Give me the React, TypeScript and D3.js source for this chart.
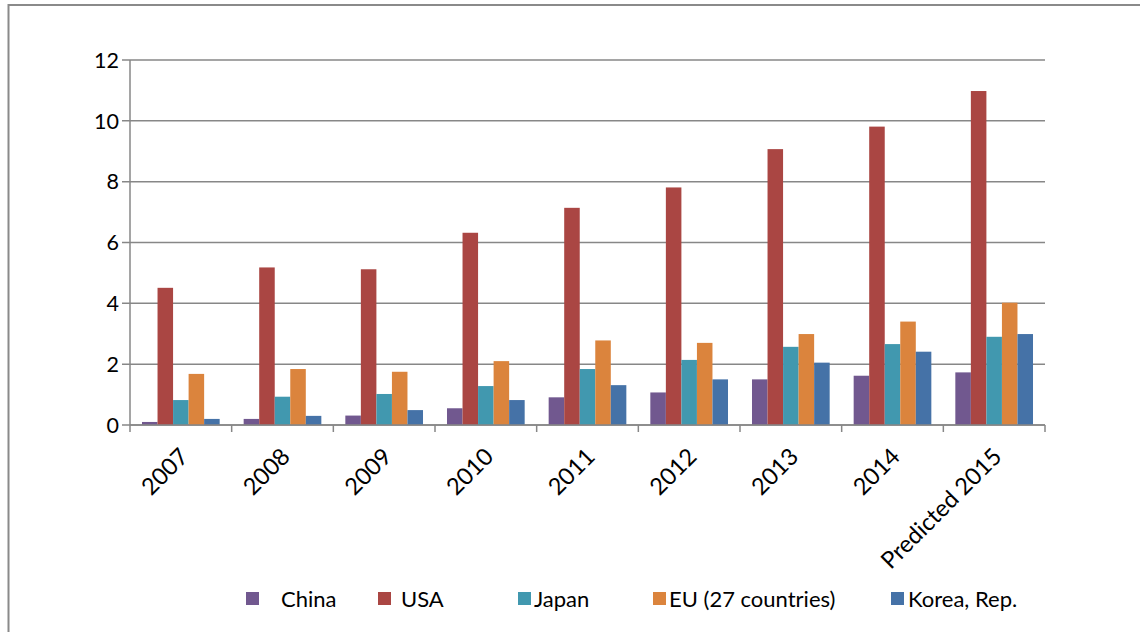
import React from "react";
import * as d3 from "d3";

const categories = ["2007", "2008", "2009", "2010", "2011", "2012", "2013", "2014", "Predicted 2015"];
const seriesNames = ["China", "USA", "Japan", "EU (27 countries)", "Korea, Rep."];
const china = [0.1, 0.2, 0.31, 0.55, 0.91, 1.07, 1.5, 1.62, 1.73];
const usa = [4.51, 5.18, 5.12, 6.32, 7.14, 7.81, 9.07, 9.81, 10.98];
const japan = [0.82, 0.93, 1.02, 1.28, 1.84, 2.14, 2.57, 2.66, 2.9];
const eu = [1.68, 1.84, 1.75, 2.1, 2.78, 2.7, 2.99, 3.4, 4.02];
const korea = [0.2, 0.3, 0.49, 0.82, 1.31, 1.5, 2.05, 2.41, 2.99];
const yTicks = [0, 2, 4, 6, 8, 10, 12];
const colors = ["#71588F", "#AA4643", "#4198AF", "#DB843D", "#4572A7"];

const seriesValues = [china, usa, japan, eu, korea];

const W = 1140;
const H = 632;
const plot = { left: 130, right: 1045, top: 60, bottom: 425 };
const FONT = "Lato, 'Open Sans', sans-serif";
const GRID = "#878787";
const legendX = [246, 378, 518, 653, 891];
const legendGap = [35, 23, 16, 16, 17];

export default function App() {
  const x0 = d3.scaleBand<string>().domain(categories).range([plot.left, plot.right]).padding(0);
  const bw = x0.bandwidth();
  const pad = bw * 0.118;
  const x1 = d3.scaleBand<string>().domain(seriesNames).range([pad, bw - pad]).padding(0);
  const y = d3.scaleLinear().domain([0, 12]).range([plot.bottom, plot.top]);

  return (
    <svg width={W} height={H} style={{ position: "absolute", left: 0, top: 0, background: "#fff" }} fontFamily={FONT}>
      <rect x={8.5} y={5} width={W + 20} height={H + 20} fill="none" stroke="#8a8a8a" strokeWidth={2} />
      {yTicks.map((t) => (
        <g key={t}>
          <line x1={plot.left - 8} x2={plot.right} y1={y(t)} y2={y(t)} stroke={GRID} strokeWidth={1.5} />
          <text x={plot.left - 11} y={y(t)} dy="0.36em" textAnchor="end" fontSize={21.5} fill="#000">
            {t}
          </text>
        </g>
      ))}
      <line x1={plot.left} x2={plot.left} y1={plot.top} y2={plot.bottom} stroke={GRID} strokeWidth={1.5} />
      {categories.map((c, i) => (
        <g key={c}>
          {seriesValues.map((vals, s) => (
            <rect
              key={s}
              x={(x0(c) as number) + (x1(seriesNames[s]) as number)}
              y={y(vals[i])}
              width={x1.bandwidth()}
              height={y(0) - y(vals[i])}
              fill={colors[s]}
            />
          ))}
        </g>
      ))}
      <line x1={plot.left} x2={plot.right} y1={plot.bottom} y2={plot.bottom} stroke={GRID} strokeWidth={1.5} />
      {categories.concat(["end"]).map((c, i) => {
        const xx = plot.left + i * bw;
        return <line key={"t" + i} x1={xx} x2={xx} y1={plot.bottom} y2={plot.bottom + 7} stroke={GRID} strokeWidth={1.5} />;
      })}
      {categories.map((c) => {
        const cx = (x0(c) as number) + bw / 2;
        return (
          <text
            key={"l" + c}
            transform={`translate(${cx + 3},${452}) rotate(-45)`}
            dy="0.36em"
            textAnchor="end"
            fontSize={23.5}
            fill="#000"
          >
            {c}
          </text>
        );
      })}
      {seriesNames.map((n, s) => (
        <g key={"lg" + n}>
          <rect x={legendX[s]} y={592} width={13} height={13} fill={colors[s]} />
          <text x={legendX[s] + legendGap[s]} y={599} dy="0.36em" fontSize={22} fill="#000">
            {n}
          </text>
        </g>
      ))}
    </svg>
  );
}
